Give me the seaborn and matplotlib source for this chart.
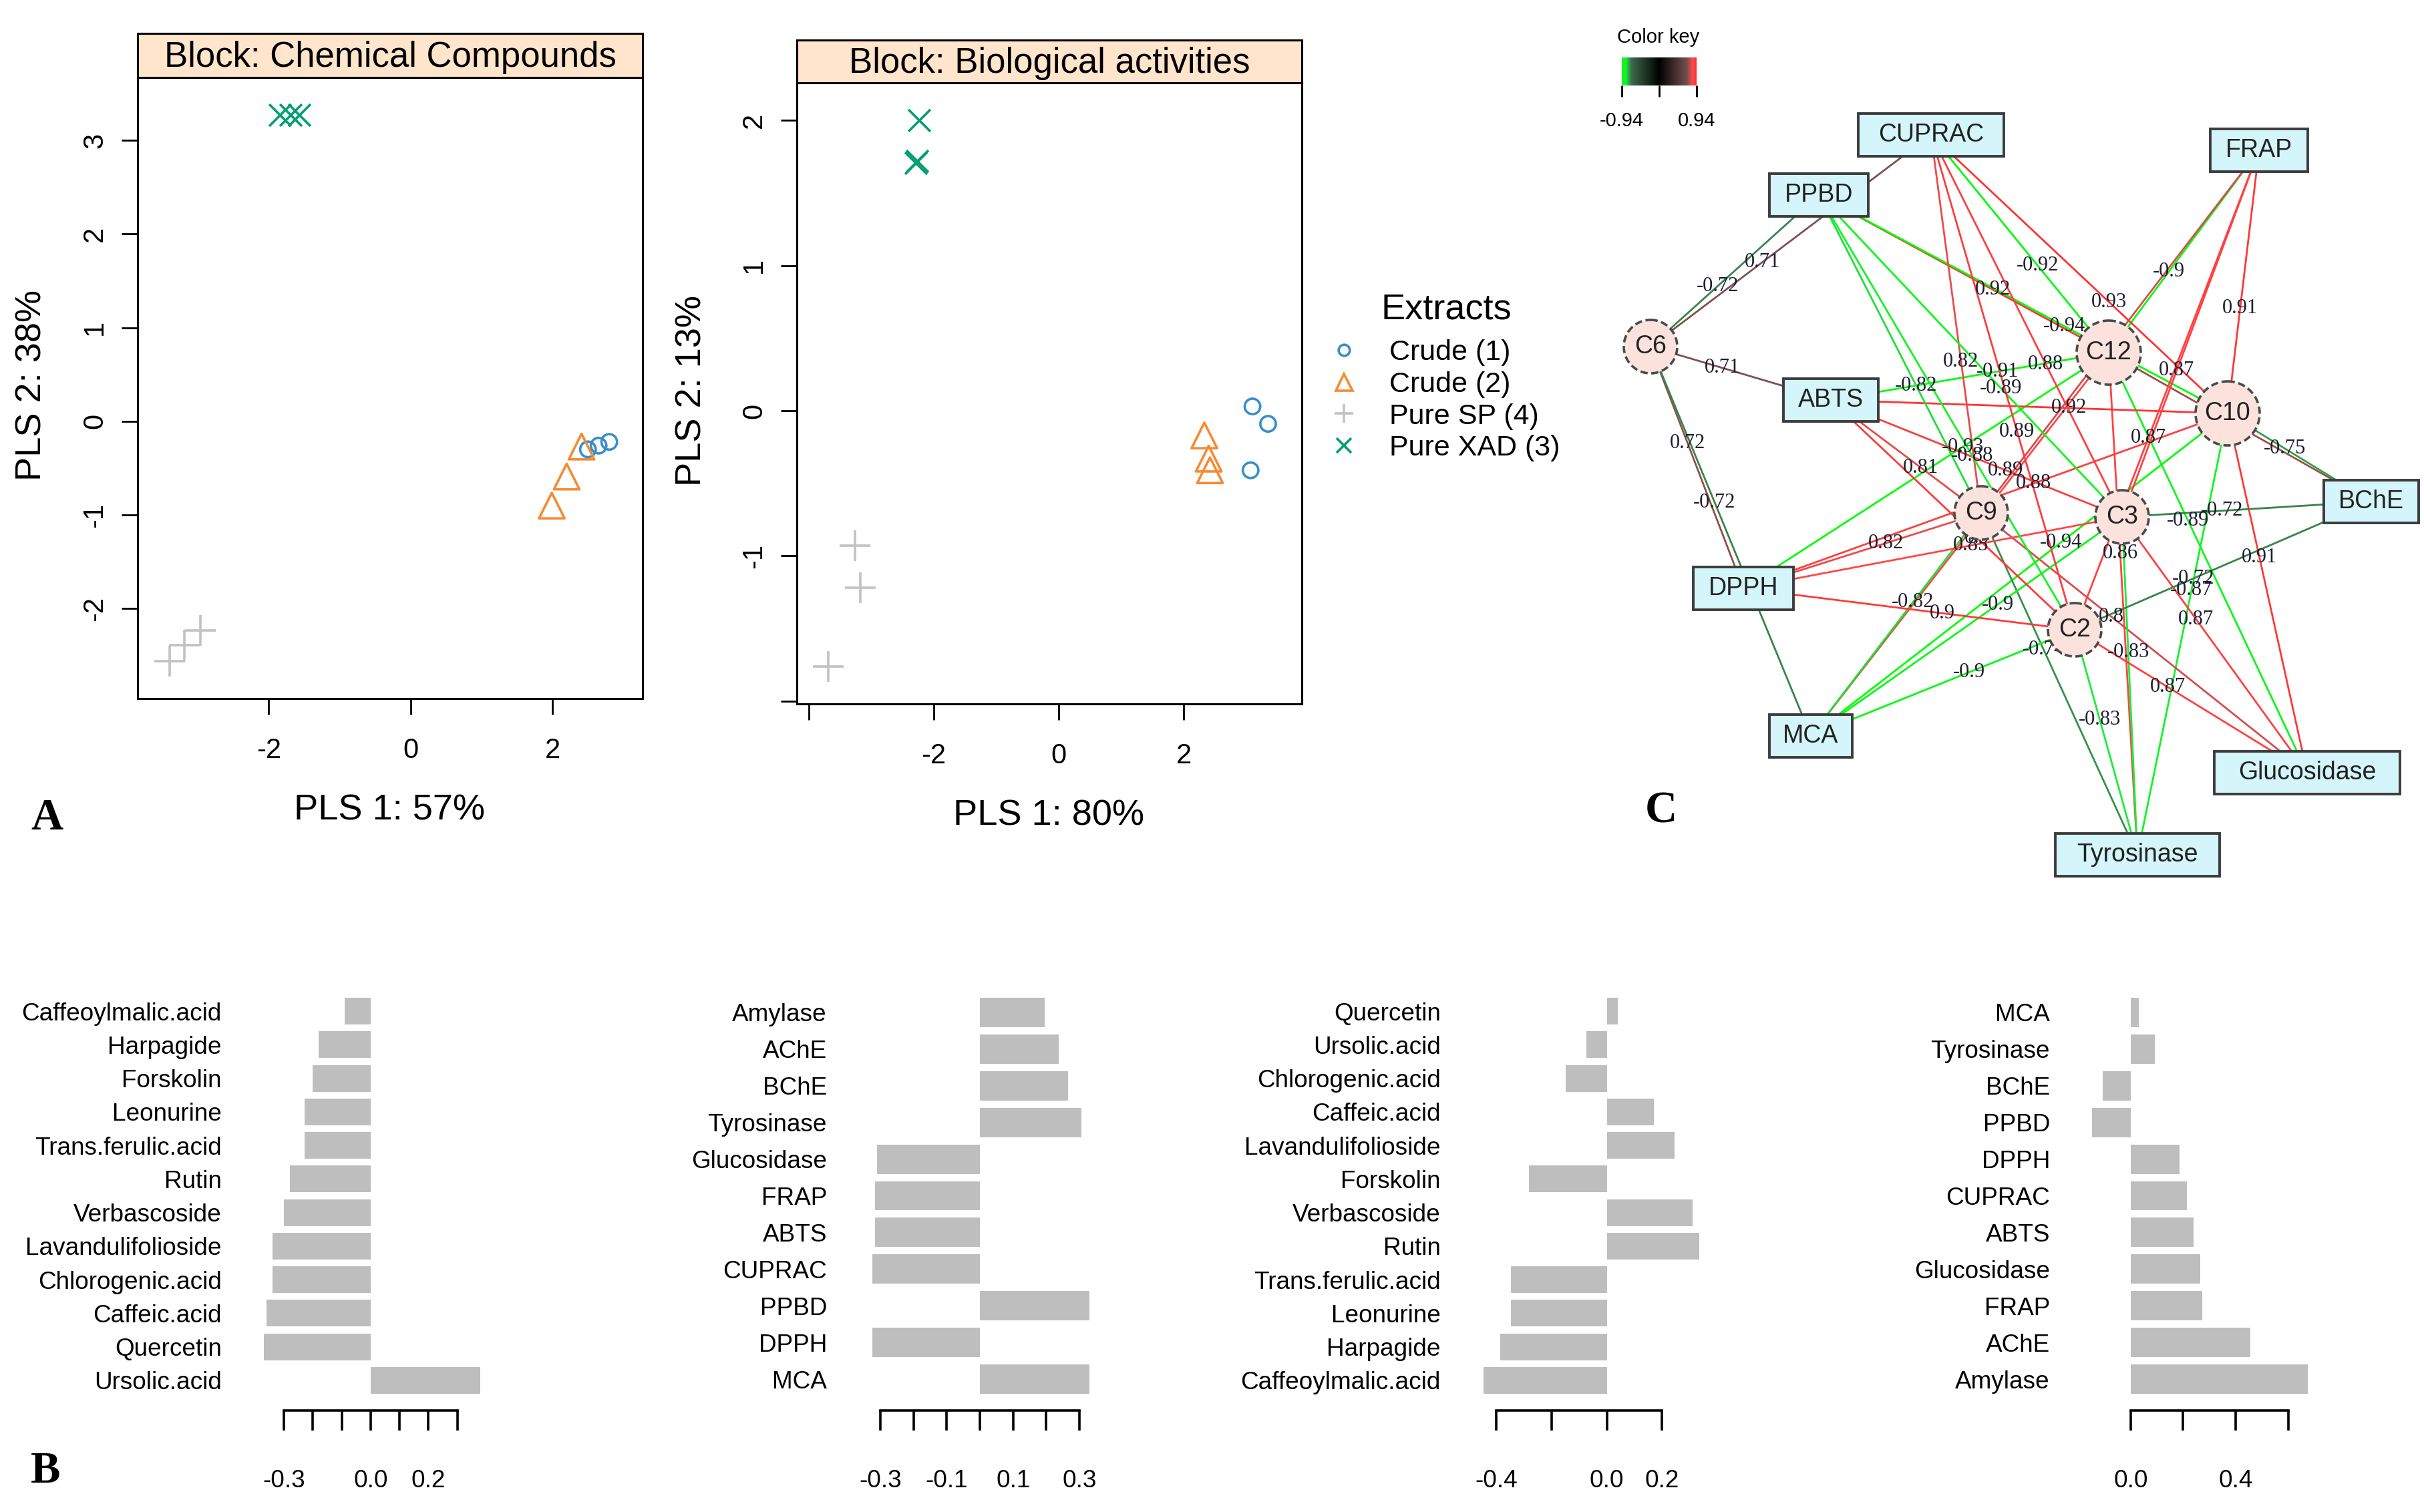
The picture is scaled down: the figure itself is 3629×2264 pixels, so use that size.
import numpy as np
import pandas as pd
import matplotlib
matplotlib.use("Agg")
import matplotlib.pyplot as plt
import seaborn as sns
from matplotlib.colors import LinearSegmentedColormap, Normalize
from matplotlib.patches import Circle, Rectangle
from matplotlib.lines import Line2D
from matplotlib.ticker import FixedLocator

# ---------------- data ----------------
# A: sample plots (3 replicates per extract)
extract_names = ["Crude (1)", "Crude (2)", "Pure SP (4)", "Pure XAD (3)"]
sample_extract = ["Crude (1)"] * 3 + ["Crude (2)"] * 3 + ["Pure SP (4)"] * 3 + ["Pure XAD (3)"] * 3
chem_pls1 = [2.50, 2.65, 2.80, 2.41, 2.20, 1.99, -3.40, -3.19, -2.96, -1.84, -1.69, -1.57]
chem_pls2 = [-0.30, -0.26, -0.22, -0.27, -0.59, -0.90, -2.56, -2.39, -2.23, 3.27, 3.27, 3.27]
bio_pls1 = [3.10, 3.35, 3.07, 2.33, 2.40, 2.42, -3.26, -3.17, -3.69, -2.23, -2.29, -2.27]
bio_pls2 = [0.03, -0.09, -0.41, -0.17, -0.33, -0.41, -0.93, -1.22, -1.76, 2.00, 1.71, 1.72]

# B: loadings
chem_names_c1 = ["Caffeoylmalic.acid", "Harpagide", "Forskolin", "Leonurine", "Trans.ferulic.acid", "Rutin",
                 "Verbascoside", "Lavandulifolioside", "Chlorogenic.acid", "Caffeic.acid", "Quercetin", "Ursolic.acid"]
chem_load_c1 = [-0.09, -0.18, -0.20, -0.23, -0.23, -0.28, -0.30, -0.34, -0.34, -0.36, -0.37, 0.38]
bio_names_c1 = ["Amylase", "AChE", "BChE", "Tyrosinase", "Glucosidase", "FRAP", "ABTS", "CUPRAC", "PPBD", "DPPH", "MCA"]
bio_load_c1 = [0.195, 0.238, 0.265, 0.306, -0.310, -0.316, -0.316, -0.323, 0.329, -0.323, 0.329]
chem_names_c2 = ["Quercetin", "Ursolic.acid", "Chlorogenic.acid", "Caffeic.acid", "Lavandulifolioside", "Forskolin",
                 "Verbascoside", "Rutin", "Trans.ferulic.acid", "Leonurine", "Harpagide", "Caffeoylmalic.acid"]
chem_load_c2 = [0.039, -0.074, -0.149, 0.170, 0.245, -0.282, 0.311, 0.335, -0.346, -0.346, -0.386, -0.446]
bio_names_c2 = ["MCA", "Tyrosinase", "BChE", "PPBD", "DPPH", "CUPRAC", "ABTS", "Glucosidase", "FRAP", "AChE", "Amylase"]
bio_load_c2 = [0.030, 0.091, -0.105, -0.147, 0.186, 0.214, 0.239, 0.264, 0.273, 0.456, 0.674]

# C: relevance network
compound_nodes = ["C6", "C12", "C10", "C9", "C3", "C2"]
activity_nodes = ["CUPRAC", "FRAP", "PPBD", "ABTS", "BChE", "DPPH", "MCA", "Glucosidase", "Tyrosinase"]
edge_compound = (["C6"] * 5 + ["C12"] * 9 + ["C10"] * 9 + ["C9"] * 8 + ["C3"] * 9 + ["C2"] * 9)
edge_activity = (["PPBD", "CUPRAC", "ABTS", "DPPH", "MCA"]
                 + ["CUPRAC", "FRAP", "PPBD", "ABTS", "BChE", "DPPH", "MCA", "Glucosidase", "Tyrosinase"]
                 + ["CUPRAC", "FRAP", "PPBD", "ABTS", "BChE", "DPPH", "MCA", "Glucosidase", "Tyrosinase"]
                 + ["CUPRAC", "FRAP", "PPBD", "ABTS", "DPPH", "MCA", "Glucosidase", "Tyrosinase"]
                 + ["CUPRAC", "FRAP", "PPBD", "ABTS", "BChE", "DPPH", "MCA", "Glucosidase", "Tyrosinase"]
                 + ["CUPRAC", "FRAP", "PPBD", "ABTS", "BChE", "DPPH", "MCA", "Glucosidase", "Tyrosinase"])
edge_r = ([-0.72, 0.71, 0.71, 0.72, -0.72]
          + [-0.92, -0.9, 0.92, -0.91, 0.74, -0.93, 0.85, -0.89, 0.86]
          + [0.93, 0.91, -0.94, 0.92, -0.75, 0.88, -0.94, 0.91, -0.87]
          + [0.82, 0.8, -0.82, 0.81, 0.82, -0.82, 0.8, -0.74]
          + [0.88, 0.87, -0.89, 0.89, -0.72, 0.85, -0.9, 0.87, -0.83]
          + [0.89, 0.87, -0.88, 0.9, -0.72, 0.9, -0.9, 0.87, -0.83])

# network layout (node centres in figure pixels)
node_names = compound_nodes + activity_nodes
node_x = [2471, 3157, 3335, 2966, 3177, 3106, 2891, 3382, 2723, 2741, 3550, 2610, 2711, 3454, 3200]
node_y = [519, 528, 619, 768, 774, 943, 202, 225, 292, 599, 751, 881, 1102, 1157, 1280]

# ---------------- style ----------------
sns.set_style("ticks", rc={"axes.edgecolor": "black", "text.color": "black",
                           "xtick.color": "black", "ytick.color": "black"})
plt.rcParams["font.family"] = ["Liberation Sans", "DejaVu Sans"]

W, H, DPI = 3630, 2264, 200
PT = 72 / DPI
fig = plt.figure(figsize=(W / DPI, H / DPI), dpi=DPI)
fig.patch.set_facecolor("white")


def px_axes(x0, y0, x1, y1):
    return fig.add_axes([x0 / W, 1 - y1 / H, (x1 - x0) / W, (y1 - y0) / H])


def px_text(x, y, s, **kw):
    fig.text(x / W, 1 - y / H, s, **kw)


ext_colors = dict(zip(extract_names, ["#388ECC", "#F68B33", "#C2C2C2", "#009E73"]))
ext_markers = dict(zip(extract_names, ["o", "^", "+", "x"]))
ext_sizes = dict(zip(extract_names, [70, 190, 280, 140]))


def sample_plot(box, strip, title, pls1, pls2, xlim, ylim, xticks, xminor, yticks, yminor):
    ax = px_axes(*box)
    df = pd.DataFrame({"extract": sample_extract, "pls1": pls1, "pls2": pls2})
    for name in extract_names:
        sub = df[df["extract"] == name]
        kw = {}
        if ext_markers[name] in ("o", "^"):
            kw = dict(facecolor="none", edgecolor=ext_colors[name])
        sns.scatterplot(data=sub, x="pls1", y="pls2", marker=ext_markers[name], s=ext_sizes[name],
                        color=ext_colors[name], linewidth=1.3, legend=False, ax=ax, **kw)
    ax.set_xlim(xlim)
    ax.set_ylim(ylim)
    ax.set_xlabel("")
    ax.set_ylabel("")
    ax.set_xticks(xticks, labels=[f"{v:g}" for v in xticks])
    ax.set_yticks(yticks, labels=[f"{v:g}" for v in yticks])
    ax.xaxis.set_minor_locator(FixedLocator(xminor))
    ax.yaxis.set_minor_locator(FixedLocator(yminor))
    ax.tick_params(which="both", direction="out", length=24 * PT, width=1, labelsize=15)
    ax.tick_params(axis="x", pad=34 * PT)
    ax.tick_params(axis="y", pad=20 * PT)
    for lab in ax.get_yticklabels():
        lab.set_rotation(90)
        lab.set_va("center")
    for sp in ax.spines.values():
        sp.set_linewidth(1.1)
    st = px_axes(*strip)
    st.set_facecolor("#FFE5CC")
    st.set_xticks([])
    st.set_yticks([])
    for sp in st.spines.values():
        sp.set_linewidth(1.1)
    st.text(0.5, 0.45, title, ha="center", va="center", fontsize=19, transform=st.transAxes)
    return ax


sample_plot((206, 116, 962, 1046), (206, 50, 962, 116), "Block: Chemical Compounds",
            chem_pls1, chem_pls2, (-3.85, 3.27), (-2.96, 3.67),
            [-2, 0, 2], [], [-2, -1, 0, 1, 2, 3], [])
sample_plot((1193, 124, 1949, 1054), (1193, 60, 1949, 124), "Block: Biological activities",
            bio_pls1, bio_pls2, (-4.19, 3.89), (-2.02, 2.26),
            [-2, 0, 2], [-4], [-1, 0, 1, 2], [-2])

px_text(583, 1214, "PLS 1: 57%", ha="center", va="center", fontsize=19.5)
px_text(48, 577, "PLS 2: 38%", ha="center", va="center", fontsize=19.5, rotation=90)
px_text(1570, 1222, "PLS 1: 80%", ha="center", va="center", fontsize=19.5)
px_text(1036, 585, "PLS 2: 13%", ha="center", va="center", fontsize=19.5, rotation=90)

# legend: title placed a little apart from the entries, as in the reference
px_text(2165, 463, "Extracts", ha="center", va="center", fontsize=19.5)
handles = [Line2D([], [], ls="none", marker=ext_markers[n], ms=ms, mfc="none", mec=ext_colors[n], mew=1.3)
           for n, ms in zip(extract_names, [6, 9, 10, 8])]
fig.legend(handles, extract_names, loc="upper left", bbox_to_anchor=(1990 / W, 1 - 508 / H),
           frameon=False, fontsize=15.5, handlelength=1.0, handletextpad=1.1,
           labelspacing=0.18, borderaxespad=0, borderpad=0)

# ---------------- B: loadings ----------------
def loading_plot(x0, x1, names, values, xlim, ticks, labelled):
    ax = px_axes(x0, 1494, x1, 2087)
    df = pd.DataFrame({"name": names, "value": values})
    sns.barplot(data=df, x="value", y="name", orient="h", color="#BEBEBE", saturation=1,
                width=0.8, errorbar=None, linewidth=0, ax=ax)
    ax.set_xlim(xlim)
    ax.set_ylim(len(names) - 0.6, -0.4)
    ax.set_xlabel("")
    ax.set_ylabel("")
    for s in ["left", "top", "right"]:
        ax.spines[s].set_visible(False)
    ax.spines["bottom"].set_position(("outward", 25 * PT))
    ax.spines["bottom"].set_bounds(ticks[0], ticks[-1])
    ax.spines["bottom"].set_linewidth(1.3)
    ax.set_xticks(labelled, labels=[f"{v:.1f}" for v in labelled])
    ax.xaxis.set_minor_locator(FixedLocator([t for t in ticks if t not in labelled]))
    ax.tick_params(axis="x", which="both", length=30 * PT, width=1.3, pad=58 * PT, labelsize=13.3)
    ax.tick_params(axis="y", length=0, pad=50 * PT, labelsize=13.3)
    ax.patch.set_alpha(0)


loading_plot(382, 728, chem_names_c1, chem_load_c1, (-0.40, 0.40),
             [-0.3, -0.2, -0.1, 0.0, 0.1, 0.2, 0.3], [-0.3, 0.0, 0.2])
loading_plot(1288, 1646, bio_names_c1, bio_load_c1, (-0.36, 0.36),
             [-0.3, -0.2, -0.1, 0.0, 0.1, 0.2, 0.3], [-0.3, -0.1, 0.1, 0.3])
loading_plot(2207, 2563, chem_names_c2, chem_load_c2, (-0.48, 0.38),
             [-0.4, -0.2, 0.0, 0.2], [-0.4, 0.0, 0.2])
loading_plot(3119, 3473, bio_names_c2, bio_load_c2, (-0.18, 0.72),
             [0.0, 0.2, 0.4, 0.6], [0.0, 0.4])

# ---------------- C: network ----------------
edge_cmap = LinearSegmentedColormap.from_list("greenred", [
    (0.0, "#00FF00"), (0.053, "#1AF03A"), (0.128, "#3F6A4C"), (0.5, "#000000"),
    (0.872, "#735050"), (0.947, "#FF4A4A"), (1.0, "#FF3030")])
edge_norm = Normalize(-0.94, 0.94)

axC = px_axes(2400, 0, 3630, 1350)
axC.set_xlim(2400, 3630)
axC.set_ylim(1350, 0)
axC.axis("off")

pos = {n: (x, y) for n, x, y in zip(node_names, node_x, node_y)}
for c, a, r in zip(edge_compound, edge_activity, edge_r):
    (x1, y1), (x2, y2) = pos[c], pos[a]
    axC.plot([x1, x2], [y1, y2], color=edge_cmap(edge_norm(r)), lw=1.0, zorder=1, solid_capstyle="butt")
    lx, ly = x1 + 0.4 * (x2 - x1), y1 + 0.4 * (y2 - y1)
    axC.text(lx, ly, f"{r:g}", ha="center", va="center", fontsize=11, color="#1E1E30",
             family=["Liberation Serif", "DejaVu Serif"], zorder=2)

for n in compound_nodes:
    x, y = pos[n]
    rad = 48 if len(n) > 2 else 40
    axC.add_patch(Circle((x, y), rad, facecolor="#FBE2DD", edgecolor="#4A4A4A", lw=1.3, ls=(0, (3, 1.5)), zorder=3))
    axC.text(x, y, n, ha="center", va="center", fontsize=13.5, color="#222222", zorder=5)

fig.canvas.draw()
renderer = fig.canvas.get_renderer()
for n in activity_nodes:
    x, y = pos[n]
    t = axC.text(x, y, n, ha="center", va="center", fontsize=13.5, color="#222222", zorder=5)
    tw = t.get_window_extent(renderer=renderer).width
    bw, bh = tw * 1.25 + 20, 64
    axC.add_patch(Rectangle((x - bw / 2, y - bh / 2), bw, bh, facecolor="#D4F5F9", edgecolor="#3C3C3C",
                            lw=1.4, zorder=4))

# colour key
axK = px_axes(2428, 86, 2540, 128)
axK.imshow(np.linspace(-0.94, 0.94, 256)[None, :], cmap=edge_cmap, norm=edge_norm, aspect="auto",
           extent=[-0.94, 0.94, 0, 1])
axK.set_yticks([])
axK.set_xticks([-0.94, 0.94], labels=["-0.94", "0.94"])
axK.xaxis.set_minor_locator(FixedLocator([0.0]))
axK.tick_params(axis="x", which="both", length=17 * PT, width=1, labelsize=10.5, pad=22 * PT)
for s in ["left", "top", "right", "bottom"]:
    axK.spines[s].set_visible(False)
px_text(2483, 56, "Color key", ha="center", va="center", fontsize=10.5)

# panel letters
for lx, ly, s in [(70, 1226, "A"), (68, 2203, "B"), (2487, 1215, "C")]:
    px_text(lx, ly, s, ha="center", va="center", fontsize=24, fontweight="bold",
            family=["Liberation Serif", "DejaVu Serif"])

fig.savefig("out.png", dpi=DPI)
